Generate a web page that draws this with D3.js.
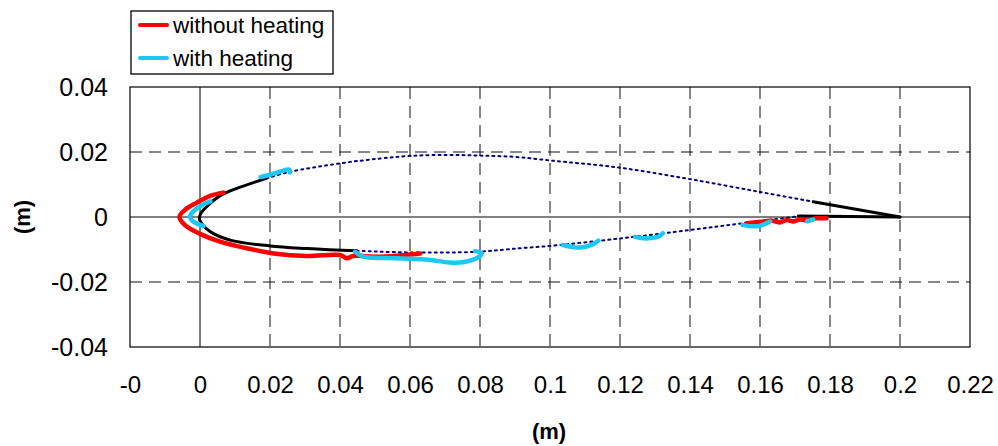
<!DOCTYPE html>
<html>
<head>
<meta charset="utf-8">
<script src="https://cdn.jsdelivr.net/npm/d3@7"></script>
<style>
  body { margin: 0; background: #fff; }
  svg { display: block; font-family: Arial, "Liberation Sans", sans-serif; }
</style>
</head>
<body>
<svg id="chart" width="998" height="446"></svg>
<script>
// airfoil profile and ice shapes [x, y] in metres
const xTicks = [-0.02, 0, 0.02, 0.04, 0.06, 0.08, 0.1, 0.12, 0.14, 0.16, 0.18, 0.2, 0.22];
const xTickLabels = ['-0', '0', '0.02', '0.04', '0.06', '0.08', '0.1', '0.12', '0.14', '0.16', '0.18', '0.2', '0.22'];
const yTicks = [-0.04, -0.02, 0, 0.02, 0.04];
const yTickLabels = ['-0.04', '-0.02', '0', '0.02', '0.04'];

const profileLE = [[0.019, 0.0119], [0.0105, 0.0088], [0.0057, 0.0065], [0.0019, 0.0032], [0.0003, 0.0012],
  [-0.0002, -0.0004], [0.0006, -0.0022], [0.0029, -0.0045], [0.0086, -0.0071], [0.02, -0.0089],
  [0.0305, -0.0097], [0.0448, -0.0104]];
const profileTEUpper = [[0.1752, 0.0047], [0.2, 0]];
const profileTELower = [[0.171, 0.0003], [0.2, 0]];
const dottedUpper = [[0.019, 0.0119], [0.0257, 0.0139], [0.04, 0.0165], [0.0514, 0.018], [0.06, 0.0188],
  [0.0705, 0.0191], [0.08, 0.0189], [0.09, 0.0185], [0.1, 0.0174], [0.1197, 0.0152], [0.1397, 0.0117],
  [0.1595, 0.0078], [0.1752, 0.0047]];
const dottedLower = [[0.0448, -0.0104], [0.06, -0.0109], [0.079, -0.0107], [0.0914, -0.0096], [0.1, -0.0089],
  [0.12, -0.0066], [0.14, -0.004], [0.1552, -0.0019], [0.1714, 0.0003]];

const redLE = [[0.0067, 0.0075], [0.0029, 0.0065], [-0.0009, 0.0044], [-0.0043, 0.0022], [-0.0059, 0],
  [-0.0043, -0.0025], [0, -0.0052], [0.0057, -0.0076], [0.0133, -0.0096], [0.021, -0.0112],
  [0.0305, -0.012], [0.04, -0.0117], [0.042, -0.0127], [0.0438, -0.012], [0.0514, -0.0122], [0.0629, -0.0112]];
const redTE = [[0.1562, -0.0019], [0.161, -0.0014], [0.1633, -0.0011], [0.1657, -0.0017], [0.1676, -0.0009],
  [0.1695, -0.0014], [0.1714, -0.0007], [0.1733, -0.0011], [0.1757, -0.0004], [0.179, -0.0004]];

const cyanLE = [[0.003, 0.0048], [0.0005, 0.0036], [-0.0018, 0.0018], [-0.0029, 0.0002], [-0.0022, -0.0012],
  [-0.0005, -0.0022], [0.001, -0.0028]];
const cyanUpper = [[0.0173, 0.0123], [0.02, 0.013], [0.023, 0.014], [0.0255, 0.0146], [0.0257, 0.0137]];
const cyanLower1 = [[0.0443, -0.0107], [0.0467, -0.0122], [0.0562, -0.0127], [0.0657, -0.0132], [0.0733, -0.0141],
  [0.079, -0.0127], [0.0805, -0.0112], [0.0786, -0.0105]];
const cyanLower2 = [[0.1036, -0.0086], [0.1086, -0.0094], [0.1119, -0.0086], [0.1138, -0.0073]];
const cyanLower3 = [[0.1243, -0.0061], [0.1276, -0.0066], [0.1314, -0.0058], [0.1322, -0.005]];
const cyanTE1 = [[0.155, -0.0025], [0.1595, -0.0028], [0.1629, -0.0014]];
const cyanTE2 = [[0.1735, -0.0013], [0.1752, -0.0008]];

const svg = d3.select('#chart');
const margin = { left: 130, top: 87 };
const width = 840, height = 260;

const x = d3.scaleLinear().domain([-0.02, 0.22]).range([margin.left, margin.left + width]);
const y = d3.scaleLinear().domain([-0.04, 0.04]).range([margin.top + height, margin.top]);

// grid
const grid = svg.append('g');
grid.selectAll('.vgrid')
  .data(xTicks.filter(d => d > -0.02 && d < 0.22 && d !== 0))
  .enter().append('line')
  .attr('x1', d => x(d)).attr('x2', d => x(d))
  .attr('y1', y(0.04)).attr('y2', y(-0.04))
  .attr('stroke', '#111').attr('stroke-width', 1).attr('stroke-dasharray', '12,7');
grid.selectAll('.hgrid')
  .data(yTicks.filter(d => Math.abs(d) === 0.02))
  .enter().append('line')
  .attr('x1', x(-0.02)).attr('x2', x(0.22))
  .attr('y1', d => y(d)).attr('y2', d => y(d))
  .attr('stroke', '#111').attr('stroke-width', 1).attr('stroke-dasharray', '12,7');

// zero lines
svg.append('line').attr('x1', x(0)).attr('x2', x(0)).attr('y1', y(0.04)).attr('y2', y(-0.04))
  .attr('stroke', '#000').attr('stroke-width', 1);
svg.append('line').attr('x1', x(-0.02)).attr('x2', x(0.22)).attr('y1', y(0)).attr('y2', y(0))
  .attr('stroke', '#000').attr('stroke-width', 1);

// plot frame
svg.append('rect').attr('x', x(-0.02)).attr('y', y(0.04))
  .attr('width', x(0.22) - x(-0.02)).attr('height', y(-0.04) - y(0.04))
  .attr('fill', 'none').attr('stroke', '#000').attr('stroke-width', 1.2);

// axes labels
const xAxis = d3.axisBottom(x).tickValues(xTicks).tickSize(0).tickPadding(0)
  .tickFormat((d, i) => xTickLabels[i]);
const gx = svg.append('g').attr('transform', `translate(0,${y(-0.04) + 29})`).call(xAxis);
gx.select('.domain').remove();
gx.selectAll('text').attr('font-size', '24px').attr('fill', '#000')
  .attr('font-family', 'Arial, "Liberation Sans", sans-serif');

const yAxis = d3.axisLeft(y).tickValues(yTicks).tickSize(0).tickPadding(0)
  .tickFormat((d, i) => yTickLabels[i]);
const gy = svg.append('g').attr('transform', `translate(${x(-0.02) - 22},0)`).call(yAxis);
gy.select('.domain').remove();
gy.selectAll('text').attr('font-size', '25px').attr('fill', '#000')
  .attr('font-family', 'Arial, "Liberation Sans", sans-serif');

svg.append('text').attr('x', 549).attr('y', 439).attr('text-anchor', 'middle')
  .attr('font-size', '22px').attr('font-weight', 'bold').text('(m)');
svg.append('text').attr('transform', 'translate(30,217) rotate(-90)').attr('text-anchor', 'middle')
  .attr('font-size', '22px').attr('font-weight', 'bold').text('(m)');

// lines
const smooth = d3.line().x(d => x(d[0])).y(d => y(d[1])).curve(d3.curveCatmullRom);
const straight = d3.line().x(d => x(d[0])).y(d => y(d[1]));

function draw(data, gen, color, w, dash) {
  svg.append('path').attr('d', gen(data)).attr('fill', 'none')
    .attr('stroke', color).attr('stroke-width', w)
    .attr('stroke-linecap', 'round').attr('stroke-linejoin', 'round')
    .attr('stroke-dasharray', dash || null);
}

draw(dottedUpper, smooth, '#000080', 2, '2,4');
draw(dottedLower, smooth, '#000080', 2, '2,4');
draw(profileLE, smooth, '#000', 3);
draw(profileTEUpper, straight, '#000', 3);
draw(profileTELower, straight, '#000', 3);

const red = '#ff0000', cyan = '#1ec8f5';
draw(redLE, smooth, red, 4.5);
draw(redTE, straight, red, 4.5);
[cyanLE, cyanUpper, cyanLower1, cyanLower2, cyanLower3, cyanTE1, cyanTE2]
  .forEach(s => draw(s, smooth, cyan, 4.5));

// legend
const legend = svg.append('g');
legend.append('rect').attr('x', 131).attr('y', 11).attr('width', 202).attr('height', 63)
  .attr('fill', '#fff').attr('stroke', '#000').attr('stroke-width', 1.3);
[{ label: 'without heating', color: red }, { label: 'with heating', color: cyan }].forEach((d, i) => {
  const ly = 25 + i * 33;
  legend.append('line').attr('x1', 140).attr('x2', 167).attr('y1', ly).attr('y2', ly)
    .attr('stroke', d.color).attr('stroke-width', 4).attr('stroke-linecap', 'round');
  legend.append('text').attr('x', 173).attr('y', ly).attr('dy', '0.35em')
    .attr('font-size', '22.5px').attr('fill', '#000').text(d.label);
});
</script>
</body>
</html>
